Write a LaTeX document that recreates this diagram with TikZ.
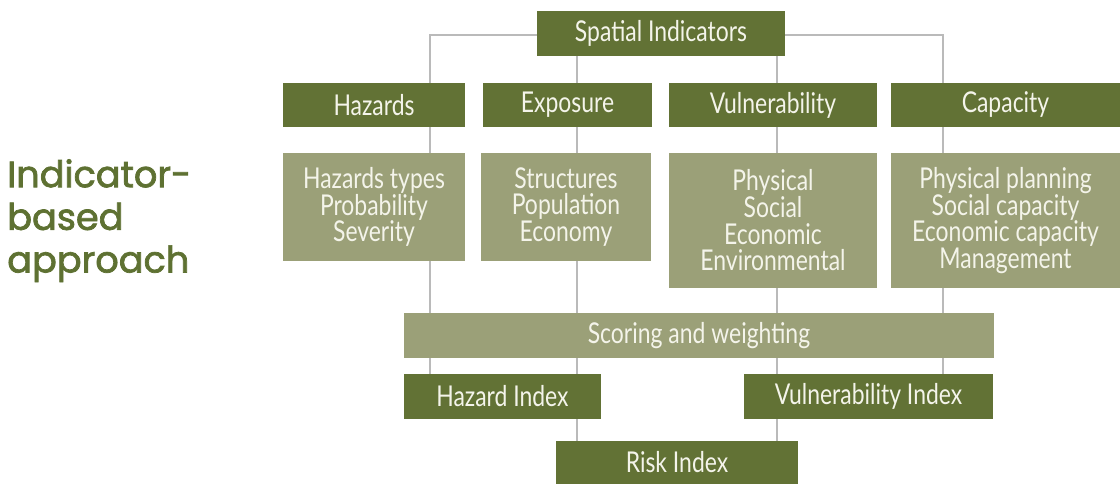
\documentclass[tikz,border=0pt]{standalone}
\usepackage{fontspec}
\setmainfont{Lato}[FakeStretch=0.8]
\newfontfamily\titlefont{Poppins}[FakeBold=2]
\usetikzlibrary{backgrounds}
\definecolor{darkgreen}{HTML}{627235}
\definecolor{sage}{HTML}{9BA078}
\definecolor{boxtext}{HTML}{F4F4EA}
\definecolor{titlegreen}{HTML}{5E7132}
\definecolor{linegray}{HTML}{BABABA}
\tikzset{
  base/.style={inner sep=0pt, outer sep=0pt, text=boxtext, align=center,
    font=\fontsize{21.5}{20}\selectfont},
  darkbox/.style={base, fill=darkgreen},
  lightbox/.style={base, fill=sage},
  conn/.style={draw=linegray, line width=0.8pt},
  % box given by pixel corners x1,y1,x2,y2
  px/.style args={#1,#2,#3,#4}{minimum width={(#3-#1)*0.75pt}, minimum height={(#4-#2)*0.75pt}},
}
\newcommand{\pbox}[7]{\node[#6, px={#2,#3,#4,#5}] (#1) at ({(#2+#4)/2},{(#3+#5)/2}) {#7};}
\begin{document}
\begin{tikzpicture}[x=0.75pt,y=-0.75pt]
\useasboundingbox (0,0) rectangle (1120,484);
% column coordinates
\coordinate (c1) at (430,0);
\coordinate (c2) at (577,0);
\coordinate (c3) at (777,0);
\coordinate (c4) at (943,0);
% title
\node[anchor=north west, inner sep=0pt, text=titlegreen, align=left,
  font=\titlefont\fontsize{27.5}{32}\selectfont] (title) at (7,159)
  {Indicator-\\based\\approach};
% top
\pbox{spatial}{537}{11}{785}{56}{darkbox}{Spatial Indicators}
% categories
\pbox{hazards}{283}{83}{465}{127}{darkbox}{Hazards}
\pbox{exposure}{483}{83}{652}{127}{darkbox}{Exposure}
\pbox{vulner}{669}{83}{877}{127}{darkbox}{Vulnerability}
\pbox{capacity}{891}{83}{1120}{127}{darkbox}{Capacity}
% details
\pbox{hazdet}{283}{153}{465}{261}{lightbox}{Hazards types\\Probability\\Severity}
\pbox{expdet}{481}{153}{651}{261}{lightbox}{Structures\\Population\\Economy}
\pbox{vuldet}{669}{153}{877}{288}{lightbox}{Physical\\Social\\Economic\\Environmental}
\pbox{capdet}{891}{153}{1120}{288}{lightbox}{Physical planning\\Social capacity\\Economic capacity\\Management}
% scoring
\pbox{scoring}{404}{313}{994}{358}{lightbox}{Scoring and weighting}
% indices
\pbox{hidx}{404}{374}{601}{419}{darkbox}{Hazard Index}
\pbox{vidx}{744}{374}{993}{419}{darkbox}{Vulnerability Index}
\pbox{risk}{556}{441}{798}{484}{darkbox}{Risk Index}
% connectors behind boxes
\begin{scope}[on background layer]
  \draw[conn] (spatial.west |- 0,35) -| (hidx.north -| c1);
  \draw[conn] (spatial.east |- 0,35) -| (vidx.north -| c4);
  \draw[conn] (spatial.south -| c2) -- (risk.north -| c2);
  \draw[conn] (spatial.south -| c3) -- (risk.north -| c3);
\end{scope}
\end{tikzpicture}
\end{document}
